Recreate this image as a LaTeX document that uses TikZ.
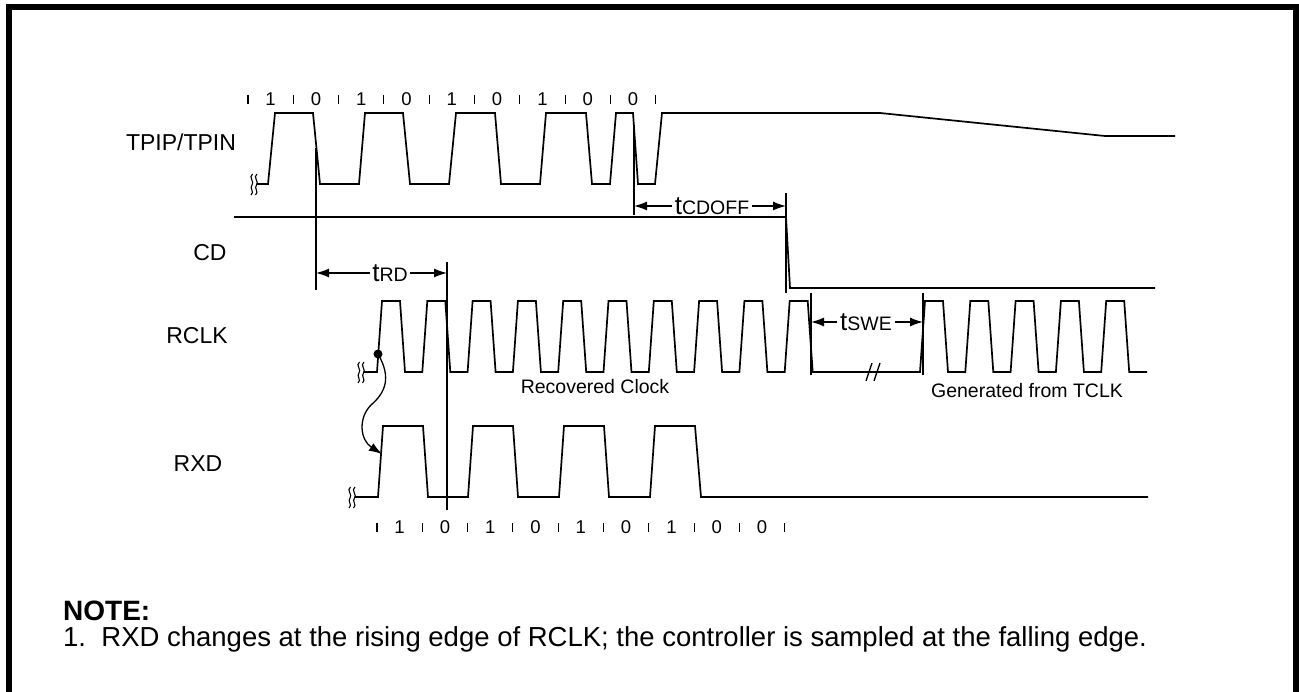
\documentclass[tikz,border=0pt]{standalone}
\usepackage{fontspec}
\setmainfont{Liberation Sans}
\usetikzlibrary{arrows.meta}
\begin{document}
\begin{tikzpicture}[x=1pt,y=-1pt,
  sig/.style={line width=1.7pt,line join=miter},
  thinl/.style={line width=1.3pt},
  tickl/.style={line width=1.1pt},
  dimarrow/.style={line width=1.3pt,-{Latex[length=13pt,width=9pt]}},
  lbl/.style={font=\fontsize{23}{26}\selectfont,inner sep=0pt},
  bit/.style={font=\fontsize{18.5}{20}\selectfont,inner sep=0pt},
  captxt/.style={font=\fontsize{19.5}{22}\selectfont,inner sep=0pt},
  dimlbl/.style={inner sep=2.5pt},
  brk/.pic={
    \draw[line width=1.1pt] (1.5,-10) .. controls (-3,-7) and (4,-2) .. (1,1) .. controls (-2,4) and (4,8) .. (0,11);
    \draw[line width=1.1pt] (6,-10) .. controls (1.5,-7) and (8.5,-2) .. (5.5,1) .. controls (2.5,4) and (8.5,8) .. (4.5,11);
  }]
\useasboundingbox (0,0) rectangle (1299,692);
\clip (0,0) rectangle (1299,692);
% frame
\draw[line width=6pt] (9,7) rectangle (1296,730);

% labels
\node[lbl] (ltp) at (181,142) {TPIP/TPIN};
\node[lbl] (lcd) at (210,253) {CD};
\node[lbl] (lrc) at (197,336) {RCLK};
\node[lbl] (lrx) at (198,464) {RXD};

% top bit row
\foreach \k in {0,...,9} {\draw[tickl] ({248+45.3*\k},95) -- ({248+45.3*\k},104);}
\foreach \b [count=\k from 0] in {1,0,1,0,1,0,1,0,0} {\node[bit] (tb\k) at ({270.6+45.3*\k},99) {\b};}

% TPIP/TPIN
\pic at (251,184) {brk};
\draw[sig] (257,184) -- (268,184) -- (275,113) -- (313,113) -- (320,184) -- (359,184) -- (365,113) -- (403,113) -- (410,184)
  -- (449,184) -- (456,113) -- (495,113) -- (501,184) -- (540,184) -- (546,113) -- (586,113) -- (592,184)
  -- (610,184) -- (616,113) -- (633,113) -- (638,184) -- (655,184) -- (662,113) -- (880,113) -- (1105,136) -- (1175,136);

% CD
\draw[sig] (234,217) -- (786,217) -- (790,288) -- (1155,288);

% RCLK
\pic at (358,372) {brk};
\draw[sig] (364,372) -- (377,372)
  \foreach \k in {0,...,9} { -- ({377+45.3*\k},372) -- ({382+45.3*\k},301) -- ({400+45.3*\k},301) -- ({405+45.3*\k},372) }
  -- (920,372)
  \foreach \k in {0,...,4} { -- ({920+45.3*\k},372) -- ({925+45.3*\k},301) -- ({943+45.3*\k},301) -- ({948+45.3*\k},372) }
  -- (1147,372);
\draw[thinl] (866,381) -- (872,363);
\draw[thinl] (874,381) -- (880,363);
\node[captxt] (rec) at (595,387) {Recovered Clock};
\node[captxt] (gen) at (1027,391) {Generated from TCLK};

% RXD
\pic at (349,497) {brk};
\draw[sig] (355,497) -- (378,497) -- (383,426) -- (423,426) -- (428,497) -- (468,497) -- (473,426) -- (513,426) -- (518,497)
  -- (559,497) -- (564,426) -- (604,426) -- (609,497) -- (650,497) -- (655,426) -- (695,426) -- (701,497) -- (1148,497);

% bottom bit row
\foreach \k in {0,...,9} {\draw[tickl] ({377+45.3*\k},523) -- ({377+45.3*\k},532);}
\foreach \b [count=\k from 0] in {1,0,1,0,1,0,1,0,0} {\node[bit] (bb\k) at ({399.6+45.3*\k},527) {\b};}

% reference verticals
\coordinate (v1t) at (316,148); \coordinate (v1b) at (316,290);
\coordinate (v2t) at (447,262); \coordinate (v2b) at (447,510);
\coordinate (v3t) at (634,125); \coordinate (v3b) at (634,215);
\coordinate (v4t) at (786,193); \coordinate (v4b) at (786,293);
\coordinate (v5t) at (811,293); \coordinate (v5b) at (811,375);
\coordinate (v6t) at (923,293); \coordinate (v6b) at (923,375);
\foreach \v in {1,...,6} {\draw[thinl] (v\v t) -- (v\v b);}

% tRD
\node[dimlbl] (trd) at (390,273) {\fontsize{26}{26}\selectfont t\fontsize{19.5}{20}\selectfont RD};
\draw[dimarrow] (trd.west) -- (316,273);
\draw[dimarrow] (trd.east) -- (447,273);

% tCDOFF
\node[dimlbl] (tcd) at (712,206) {\fontsize{26}{26}\selectfont t\fontsize{19.5}{20}\selectfont CDOFF};
\draw[dimarrow] (tcd.west) -- (634,206);
\draw[dimarrow] (tcd.east) -- (786,206);

% tSWE
\node[dimlbl] (tsw) at (866,322) {\fontsize{26}{26}\selectfont t\fontsize{19.5}{20}\selectfont SWE};
\draw[dimarrow] (tsw.west) -- (811,322);
\draw[dimarrow] (tsw.east) -- (923,322);

% causal arrow RCLK -> RXD
\fill (378,354) circle (4.5) coordinate (dot);
\draw[line width=1.3pt,-{Latex[length=13pt,width=9pt]}] (dot) .. controls (392,378) and (385,393) .. (371,405) .. controls (358,418) and (360,440) .. (382,454);

% note
\node[anchor=west,inner sep=0pt,font=\bfseries\fontsize{28}{30}\selectfont] (note) at (63,611) {NOTE:};
\node[anchor=west,inner sep=0pt,font=\fontsize{27.5}{30}\selectfont] (note1) at (63,639) {1.\ \ RXD changes at the rising edge of RCLK; the controller is sampled at the falling edge.};
\end{tikzpicture}
\end{document}
